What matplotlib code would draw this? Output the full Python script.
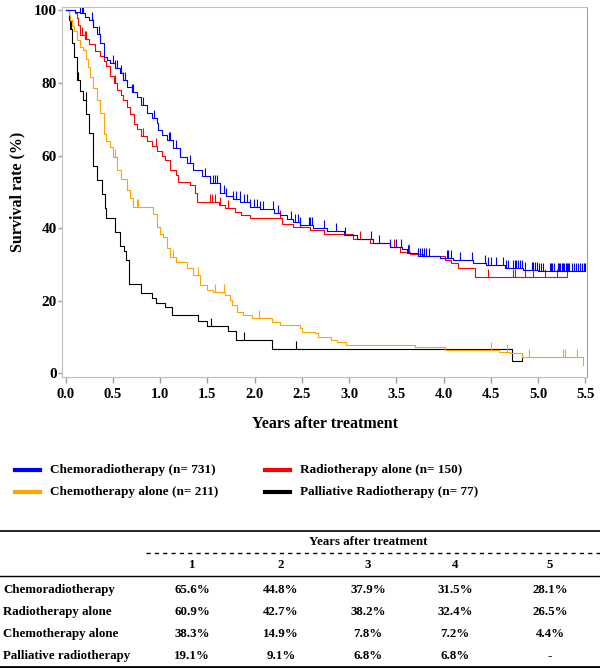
import numpy as np
import matplotlib
matplotlib.use("Agg")
import matplotlib.pyplot as plt
from matplotlib.lines import Line2D

plt.rcParams['font.family'] = ['Liberation Serif', 'DejaVu Serif']
plt.rcParams['font.weight'] = 'bold'

# Kaplan-Meier step curves (time in years, survival %)
crt_t = [0, 0.10, 0.15, 0.20, 0.25, 0.29, 0.33, 0.36, 0.40, 0.44, 0.47, 0.52, 0.575, 0.61, 0.645,
         0.70, 0.75, 0.80, 0.857, 0.91, 0.963, 0.98, 1.02, 1.07, 1.14, 1.21, 1.28, 1.35, 1.44, 1.53,
         1.63, 1.70, 1.77, 1.845, 1.95, 2.06, 2.20, 2.27, 2.34, 2.41, 2.48, 2.62, 2.76, 2.94, 3.08,
         3.25, 3.43, 3.56, 3.61, 3.73, 3.96, 4.10, 4.31, 4.45, 4.65, 4.84, 5.0, 5.49]
crt_s = [100, 99.6, 99.2, 98.2, 97.3, 95.5, 93.5, 90.9, 87.2, 86.3, 85.4, 84.0, 82.6, 80.8, 79.0,
         77.6, 76.2, 73.9, 71.6, 70.2, 68.9, 67.0, 65.6, 64.3, 62.0, 59.7, 57.9, 56.0, 54.4, 52.5,
         49.8, 48.9, 48.0, 47.1, 45.9, 45.2, 44.1, 43.6, 42.6, 41.8, 40.9, 39.9, 39.3, 38.1, 36.9,
         35.8, 34.9, 34.2, 33.2, 32.3, 31.8, 31.2, 30.3, 29.8, 28.9, 28.5, 28.1, 28.1]
crt_cens = [0.15, 0.17, 0.18, 0.275, 0.29, 0.35, 0.50, 0.52, 0.54, 0.59, 0.61, 0.63, 0.70, 0.715,
            0.82, 0.93, 1.09, 1.10, 1.17, 1.21, 1.32, 1.47, 1.56, 1.58, 1.60, 1.63, 1.67, 1.70, 1.77,
            1.80, 1.84, 1.89, 1.92, 1.95, 1.99, 2.02, 2.06, 2.09, 2.19, 2.25, 2.38, 2.43, 2.46, 2.48,
            2.57, 2.59, 2.61, 2.73, 2.86, 2.96, 3.23, 3.31, 3.43, 3.50, 3.55, 3.62, 3.73, 3.75, 3.77,
            3.79, 3.81, 3.84, 4.03, 4.05, 4.08, 4.17, 4.30, 4.44, 4.47, 4.50, 4.55, 4.63, 4.66, 4.68,
            4.73, 4.75, 4.77, 4.79, 4.81, 4.83, 4.86, 4.93, 4.95, 4.97, 4.99, 5.01, 5.03, 5.05, 5.12,
            5.14, 5.15, 5.17, 5.21, 5.22, 5.23, 5.25, 5.26, 5.27, 5.29, 5.30, 5.31, 5.33, 5.36, 5.38,
            5.40, 5.42, 5.44, 5.46, 5.48, 5.49]

rt_t = [0, 0.10, 0.116, 0.13, 0.15, 0.20, 0.25, 0.31, 0.36, 0.40, 0.43, 0.47, 0.51, 0.54, 0.58,
        0.61, 0.65, 0.68, 0.72, 0.75, 0.80, 0.857, 0.91, 0.963, 1.02, 1.05, 1.10, 1.17, 1.19, 1.32,
        1.37, 1.39, 1.62, 1.69, 1.79, 1.86, 1.95, 2.29, 2.41, 2.59, 2.73, 3.04, 3.22, 3.43, 3.54,
        3.64, 3.78, 4.01, 4.08, 4.15, 4.33, 5.30]
rt_s = [100, 99.3, 98.0, 96.0, 93.3, 92.0, 90.7, 88.7, 87.3, 86.0, 84.7, 82.0, 80.0, 78.0, 76.7,
        75.3, 73.3, 71.3, 68.7, 67.3, 65.3, 64.0, 62.7, 61.3, 60.0, 58.7, 56.0, 54.6, 52.8, 52.0,
        49.6, 47.3, 46.4, 45.5, 44.5, 43.6, 42.7, 41.1, 40.4, 39.5, 38.4, 36.9, 35.8, 34.9, 33.5,
        33.0, 32.4, 31.2, 30.3, 28.9, 26.6, 26.6]
rt_cens = [0.17, 0.20, 0.22, 0.47, 0.52, 0.82, 0.96, 1.53, 1.55, 1.58, 1.63, 1.72, 2.27, 2.48,
           3.11, 3.47, 3.63, 4.47, 4.73, 4.75, 4.86, 4.95, 5.07, 5.20, 5.30]

ct_t = [0, 0.03, 0.045, 0.07, 0.09, 0.116, 0.15, 0.186, 0.21, 0.24, 0.257, 0.29, 0.328, 0.36,
        0.40, 0.43, 0.469, 0.50, 0.54, 0.58, 0.645, 0.68, 0.715, 0.927, 0.962, 1.0, 1.03, 1.07,
        1.10, 1.17, 1.28, 1.35, 1.42, 1.49, 1.56, 1.69, 1.74, 1.76, 1.81, 1.88, 1.97, 2.18, 2.27,
        2.48, 2.50, 2.64, 2.67, 2.81, 2.87, 2.97, 3.70, 4.01, 4.58, 4.70, 4.83, 5.47]
ct_s = [100, 98.6, 97.2, 95.7, 94.3, 91.9, 90.0, 89.0, 86.7, 84.4, 81.7, 78.7, 75.3, 71.6,
        66.0, 64.0, 62.4, 59.7, 56.0, 53.6, 50.5, 48.3, 45.9, 44.0, 40.4, 38.3, 37.6, 34.6,
        32.0, 30.7, 28.9, 27.0, 24.3, 23.0, 22.5, 21.6, 20.2, 18.8, 17.0, 16.0, 15.1, 14.2, 13.3,
        12.6, 11.5, 11.0, 10.1, 9.2, 8.5, 7.8, 7.3, 6.4, 5.9, 5.5, 4.6, 2.3]
ct_cens = [0.215, 0.43, 0.52, 0.645, 0.75, 0.77, 1.14, 1.40, 1.58, 1.675, 2.05, 4.50, 4.67, 4.90,
           5.26, 5.28, 5.41]

prt_t = [0, 0.03, 0.05, 0.07, 0.09, 0.117, 0.15, 0.18, 0.215, 0.25, 0.29, 0.33, 0.38, 0.415,
         0.427, 0.52, 0.575, 0.62, 0.64, 0.67, 0.80, 0.91, 0.96, 1.05, 1.12, 1.40, 1.49, 1.72,
         1.80, 2.18, 4.72, 4.83]
prt_s = [100, 97.4, 94.8, 90.9, 87.0, 80.8, 77.9, 75.3, 71.4, 66.2, 57.1, 53.2, 49.4, 45.5,
         42.9, 39.0, 35.1, 33.8, 31.2, 24.7, 22.1, 20.8, 19.5, 18.2, 16.1, 14.5, 13.0, 11.7,
         9.1, 6.8, 3.5, 3.5]
prt_cens = [0.057, 0.127, 0.21, 1.54, 1.89, 2.44, 4.83]

legend_labels = ['Chemoradiotherapy (n= 731)', 'Radiotherapy alone (n= 150)',
                 'Chemotherapy alone (n= 211)', 'Palliative Radiotherapy (n= 77)']

# table of survival rates
table_rows = ['Chemoradiotherapy', 'Radiotherapy alone', 'Chemotherapy alone', 'Palliative radiotherapy']
table_years = ['1', '2', '3', '4', '5']
table_vals = [
    ['65.6%', '44.8%', '37.9%', '31.5%', '28.1%'],
    ['60.9%', '42.7%', '38.2%', '32.4%', '26.5%'],
    ['38.3%', '14.9%', '7.8%', '7.2%', '4.4%'],
    ['19.1%', '9.1%', '6.8%', '6.8%', '-'],
]

BLUE, RED, ORANGE, BLACK = '#0000ff', '#ff0000', '#ffa500', '#000000'

fig = plt.figure(figsize=(6.0, 6.68), dpi=100)
W, H = 600, 668

# overlay in pixel coords for legend and table
ov = fig.add_axes([0, 0, 1, 1], zorder=0)
ov.set_xlim(0, W)
ov.set_ylim(H, 0)
ov.axis('off')

ax = fig.add_axes([62.3 / W, 1 - 376.7 / H, (586.7 - 62.3) / W, (376.7 - 7.3) / H], zorder=2)
ax.patch.set_alpha(0)


def draw_curve(t, s, cens, color):
    t = np.asarray(t)
    s = np.asarray(s)
    ax.step(t, s, where='post', color=color, lw=0.8)
    cens = np.asarray(cens)
    idx = np.searchsorted(t, cens, side='right') - 1
    base = s[idx]
    ax.vlines(cens, base, base + 2.2, colors=color, lw=0.8)


draw_curve(prt_t, prt_s, prt_cens, BLACK)
draw_curve(ct_t, ct_s, ct_cens, ORANGE)
draw_curve(rt_t, rt_s, rt_cens, RED)
draw_curve(crt_t, crt_s, crt_cens, BLUE)

ax.set_xlim(-0.036, 5.513)
ax.set_ylim(-0.94, 100.83)
ax.set_xticks(np.arange(0, 5.51, 0.5))
ax.set_xticklabels([f'{v:.1f}' for v in np.arange(0, 5.51, 0.5)])
ax.set_yticks([0, 20, 40, 60, 80, 100])
for sp in ['left', 'bottom', 'top']:
    ax.spines[sp].set_color('#c0c0c0')
ax.spines['right'].set_color('#a0a0a0')
ax.tick_params(axis='x', length=4, width=1, color='#a0a0a0', pad=4, labelsize=10.5)
ax.tick_params(axis='y', length=3, width=1, color='#a0a0a0', pad=1, labelsize=11)
for lab in ax.get_xticklabels() + ax.get_yticklabels():
    lab.set_fontweight('bold')

ax.set_xlabel('Years after treatment', fontsize=11.5, fontweight='bold', labelpad=11)
ax.set_ylabel('Survival rate (%)', fontsize=11.5, fontweight='bold')
ax.yaxis.set_label_coords((25 - 62.3) / 524.4, 0.5)

# legend
leg_colors = [BLUE, RED, ORANGE, BLACK]
leg_pos = [(15, 470), (265, 470), (15, 492), (265, 492)]
for (lx, ly), c, lab in zip(leg_pos, leg_colors, legend_labels):
    ov.add_line(Line2D([lx, lx + 25], [ly, ly], color=c, lw=3))
    ov.text(lx + 35, ly, lab, fontsize=9.5, fontweight='bold', va='center', ha='left')

# table
fs = 9.3
ov.add_line(Line2D([0, W], [530.5, 530.5], color='black', lw=1.2))
ov.text(368, 542, 'Years after treatment', fontsize=fs, fontweight='bold', ha='center', va='center')
ov.add_line(Line2D([146, W], [553, 553], color='black', lw=1, ls=(0, (3, 3))))
col_x = [192, 281, 368, 455, 550]
for cx, yr in zip(col_x, table_years):
    ov.text(cx, 565, yr, fontsize=fs, fontweight='bold', ha='center', va='center')
ov.add_line(Line2D([0, W], [576, 576], color='black', lw=1))
row_y = [590, 612, 634, 656]
for ry, name, vals in zip(row_y, table_rows, table_vals):
    ov.text(3, ry, name, fontsize=fs, fontweight='bold', ha='left', va='center')
    for cx, v in zip(col_x, vals):
        ov.text(cx, ry, v, fontsize=fs, fontweight='bold', ha='center', va='center')
ov.add_line(Line2D([0, W], [666.5, 666.5], color='black', lw=2))

fig.savefig('out.png', dpi=100)
